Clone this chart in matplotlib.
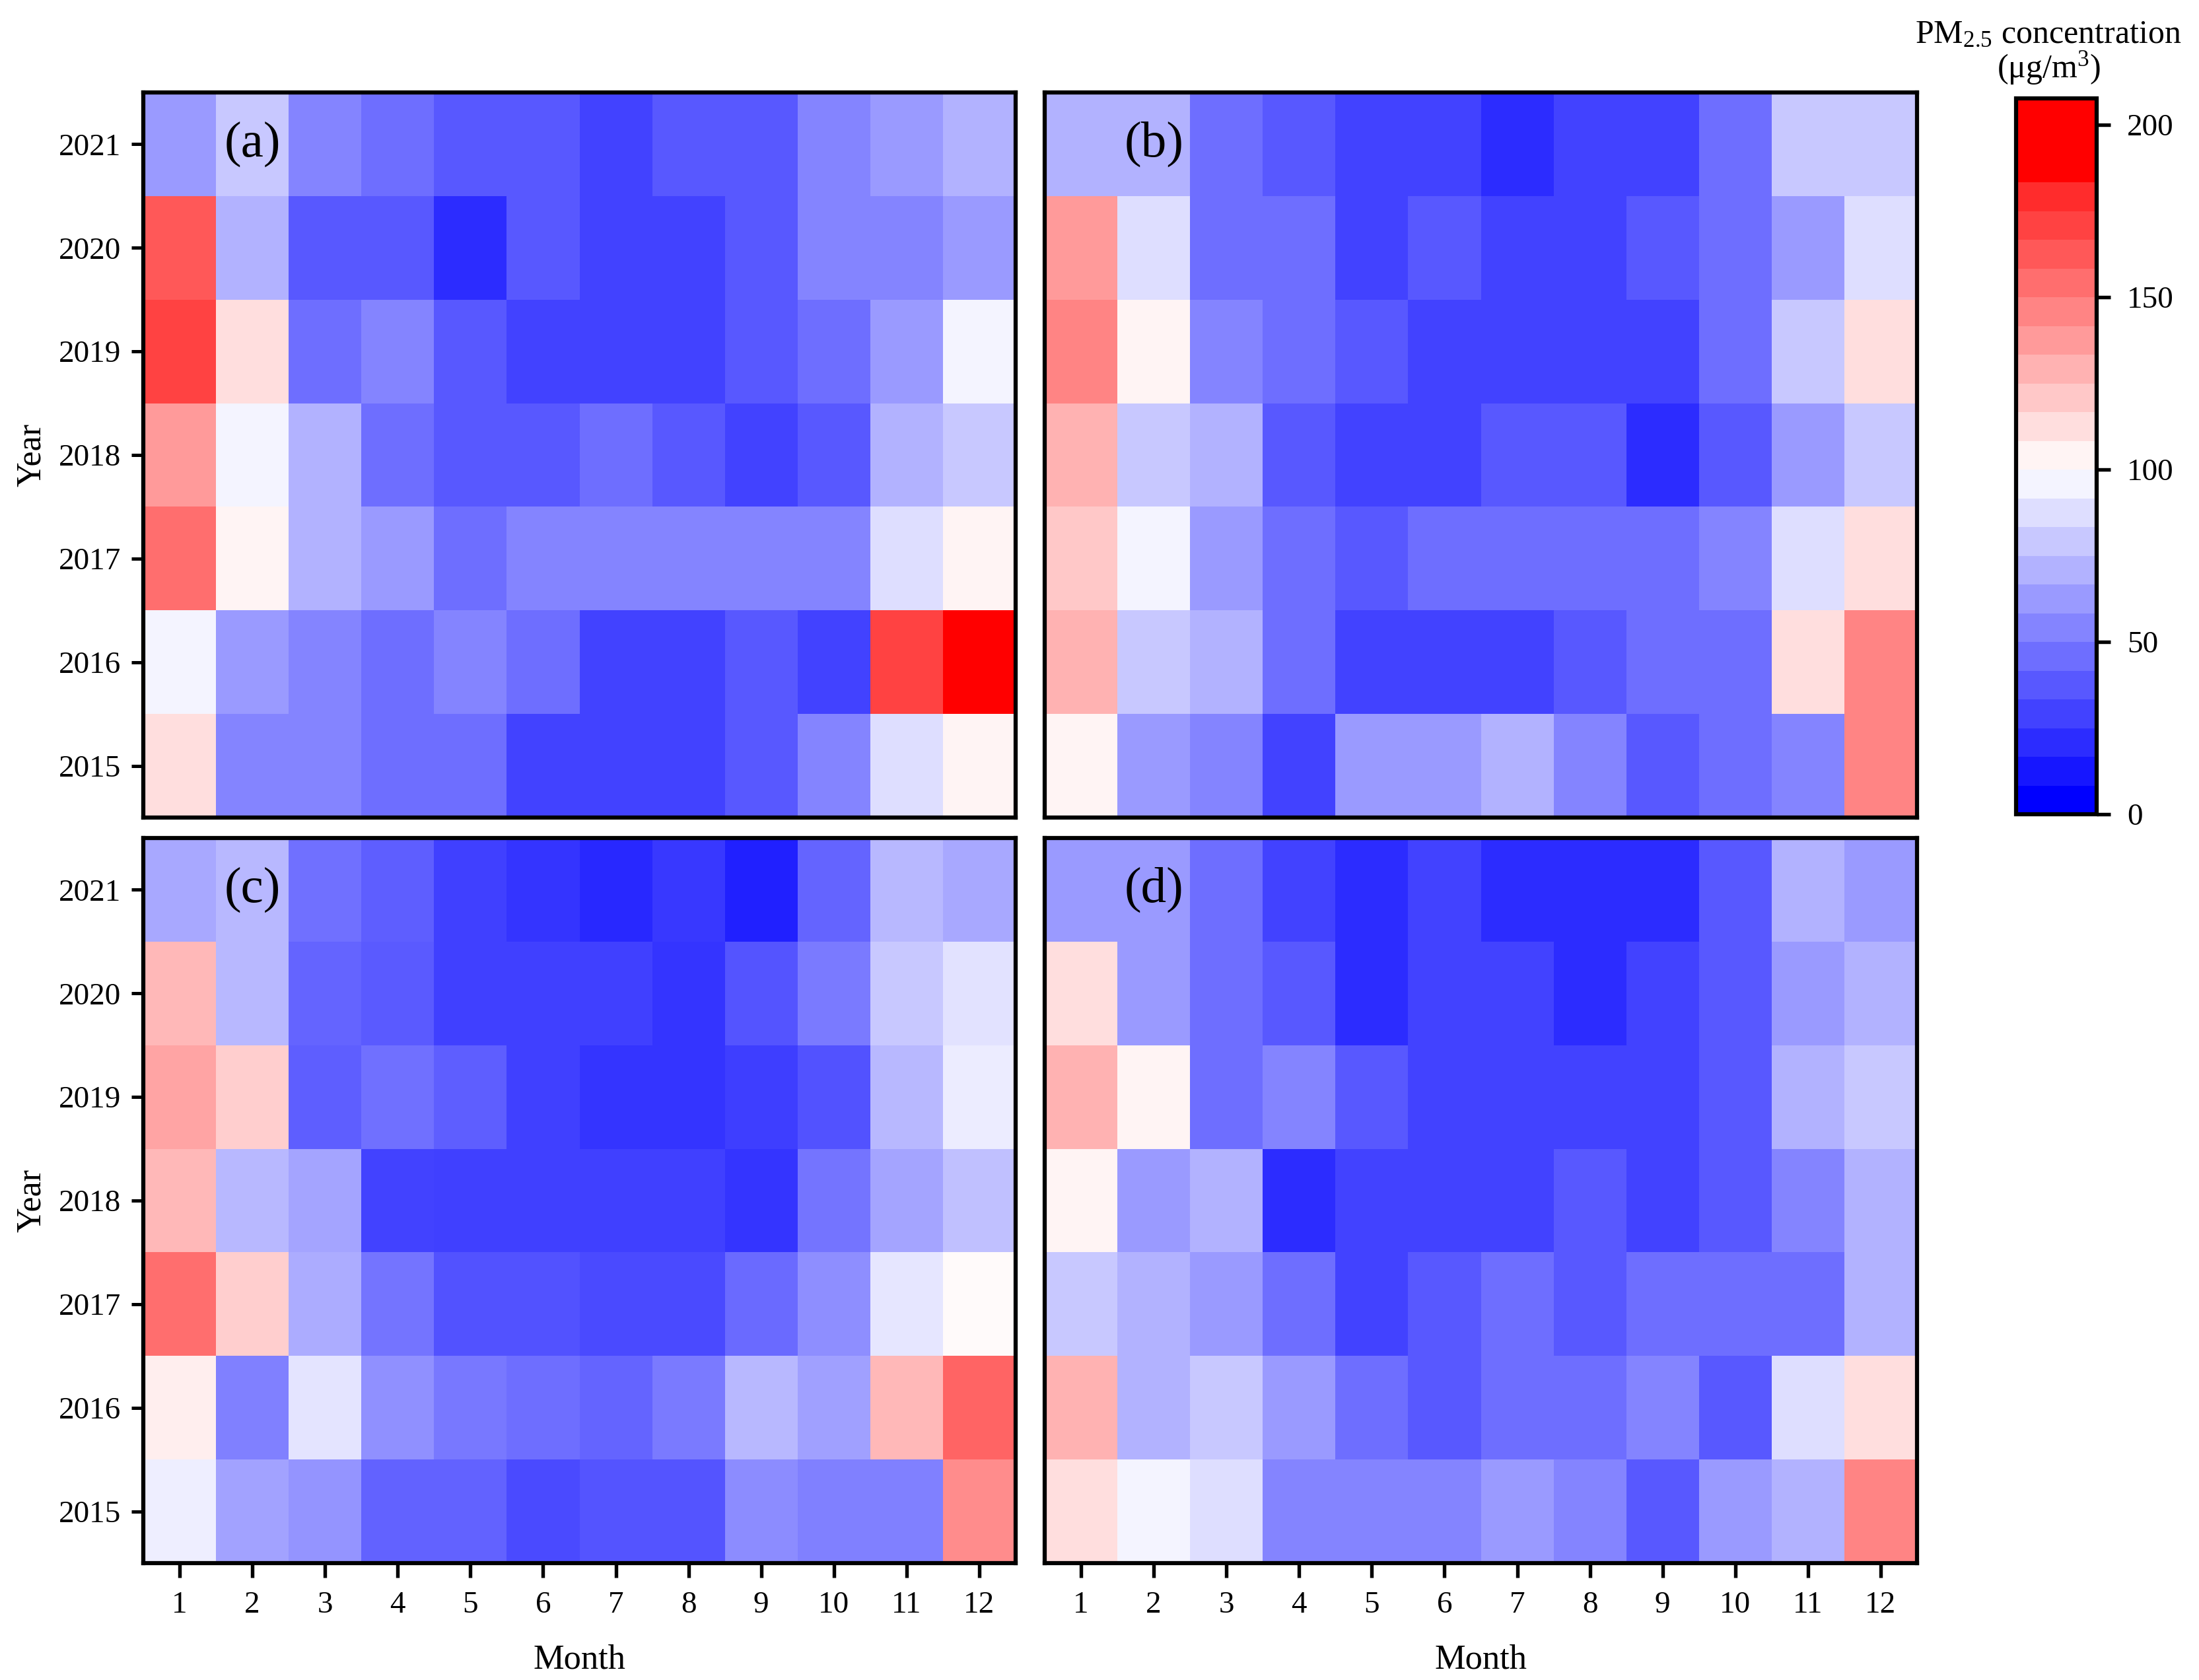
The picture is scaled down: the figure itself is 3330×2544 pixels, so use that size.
import numpy as np
import matplotlib
matplotlib.use('Agg')
import matplotlib.pyplot as plt
from matplotlib.colors import ListedColormap, BoundaryNorm, Normalize
from matplotlib.cm import ScalarMappable

plt.rcParams['font.family'] = ['Liberation Serif', 'DejaVu Serif']
plt.rcParams['mathtext.fontset'] = 'custom'
plt.rcParams['mathtext.rm'] = 'Liberation Serif'
plt.rcParams['mathtext.it'] = 'Liberation Serif:italic'

months = list(range(1, 13))
years = [2021, 2020, 2019, 2018, 2017, 2016, 2015]   # top to bottom
panel_labels = ['(a)', '(b)', '(c)', '(d)']

# PM2.5 (ug/m3), rows = years (2021 -> 2015), columns = months 1..12
pm_a = [
    [62, 79, 54, 46, 38, 38, 29, 38, 38, 54, 62, 71],
    [163, 71, 38, 38, 21, 38, 29, 29, 38, 54, 54, 62],
    [171, 112, 46, 54, 38, 29, 29, 29, 38, 46, 62, 96],
    [138, 96, 71, 46, 38, 38, 46, 38, 29, 38, 71, 79],
    [154, 104, 71, 62, 46, 54, 54, 54, 54, 54, 88, 104],
    [96, 62, 54, 46, 54, 46, 29, 29, 38, 29, 171, 200],
    [112, 54, 54, 46, 46, 29, 29, 29, 38, 54, 88, 104],
]
pm_b = [
    [71, 71, 46, 38, 29, 29, 21, 29, 29, 46, 79, 79],
    [138, 88, 46, 46, 29, 38, 29, 29, 38, 46, 62, 88],
    [146, 104, 54, 46, 38, 29, 29, 29, 29, 46, 79, 112],
    [129, 79, 71, 38, 29, 29, 38, 38, 21, 38, 62, 79],
    [121, 96, 62, 46, 38, 46, 46, 46, 46, 54, 88, 112],
    [129, 79, 71, 46, 29, 29, 29, 38, 46, 46, 112, 146],
    [104, 62, 54, 29, 62, 62, 71, 54, 38, 46, 54, 146],
]
pm_c = [
    [65.9, 72.2, 43.9, 36.9, 25.1, 20.4, 15.7, 22.0, 12.5, 39.2, 72.2, 65.9],
    [127.8, 72.2, 39.2, 35.3, 25.1, 25.1, 25.1, 20.8, 33.3, 47.8, 78.4, 88.6],
    [135.7, 119.2, 36.9, 43.9, 36.9, 25.1, 20.4, 20.4, 24.3, 32.2, 72.2, 92.5],
    [127.8, 72.2, 64.3, 25.9, 25.1, 25.1, 25.1, 25.1, 20.4, 45.5, 64.3, 75.3],
    [156.9, 119.2, 67.5, 45.5, 32.2, 32.2, 29.0, 29.0, 41.6, 55.7, 90.2, 102.0],
    [106.7, 50.2, 89.4, 56.5, 47.1, 43.1, 39.2, 47.8, 72.2, 62.7, 127.8, 160.8],
    [93.3, 63.5, 58.0, 38.4, 38.4, 29.0, 33.3, 33.3, 54.9, 50.2, 50.2, 145.1],
]
pm_d = [
    [62, 62, 46, 29, 21, 29, 21, 21, 21, 38, 71, 62],
    [112, 62, 46, 38, 21, 29, 29, 21, 29, 38, 62, 71],
    [129, 104, 46, 54, 38, 29, 29, 29, 29, 38, 71, 79],
    [104, 62, 71, 21, 29, 29, 29, 38, 29, 38, 54, 71],
    [79, 71, 62, 46, 29, 38, 46, 38, 46, 46, 46, 71],
    [129, 71, 79, 62, 46, 38, 46, 46, 54, 38, 88, 112],
    [112, 96, 88, 54, 54, 54, 62, 54, 38, 62, 71, 146],
]
cbar_ticks = [0, 50, 100, 150, 200]

# discrete colour scale (24 bands)
nb = 24
bounds = list(np.linspace(0, 200, 25)[:23]) + [207.7]
disc_cmap = ListedColormap([plt.get_cmap('bwr')(k / (nb - 1)) for k in range(nb)])
disc_norm = BoundaryNorm(bounds, nb)
cont_norm = Normalize(0, 200)

W, H = 3330, 2544
fig = plt.figure(figsize=(W / 300, H / 300), dpi=300)

def fx(px):
    return px / W

def fy(py):
    return 1 - py / H

pl = [217, 1582]
pw = 1321
pt = [140, 1269]
ph = 1098

data = [pm_a, pm_b, pm_c, pm_d]
xe = np.arange(0.5, 13.0, 1.0)
yrs_sorted = sorted(years)
ye = np.arange(yrs_sorted[0] - 0.5, yrs_sorted[-1] + 1.0, 1.0)

for i in range(4):
    r, c = divmod(i, 2)
    ax = fig.add_axes([fx(pl[c]), fy(pt[r] + ph), fx(pw), ph / H])
    arr = np.array(data[i], dtype=float)[::-1]   # rows 2015 -> 2021
    if i == 2:
        ax.pcolormesh(xe, ye, arr, cmap='bwr', norm=cont_norm)
    else:
        ax.pcolormesh(xe, ye, arr, cmap=disc_cmap, norm=disc_norm)
    ax.set_xlim(0.5, 12.5)
    ax.set_ylim(ye[0], ye[-1])
    for s in ax.spines.values():
        s.set_linewidth(1.5)
    ax.tick_params(axis='x', width=1.3, length=5.2, labelsize=11.3, pad=5)
    ax.tick_params(axis='y', width=1.2, length=4.3, labelsize=11.3, pad=3.8)
    if r == 1:
        ax.set_xticks(months)
        ax.set_xticklabels([str(m) for m in months])
        ax.set_xlabel('Month', fontsize=12.6, labelpad=9)
    else:
        ax.set_xticks([])
    if c == 0:
        ax.set_yticks(yrs_sorted)
        ax.set_yticklabels([str(y) for y in yrs_sorted])
        ax.set_ylabel('Year', fontsize=12.5, labelpad=4)
    else:
        ax.set_yticks([])
    ax.text(2, 2021, panel_labels[i], ha='center', va='center', fontsize=18.5)

cax = fig.add_axes([fx(3053), fy(1233), fx(122), (1233 - 149) / H])
cb = fig.colorbar(ScalarMappable(norm=disc_norm, cmap=disc_cmap), cax=cax,
                  spacing='proportional', ticks=cbar_ticks)
cb.minorticks_off()
cb.outline.set_linewidth(1.5)
cb.ax.tick_params(width=1.3, length=5, labelsize=11.3, pad=6)
cb.ax.set_yticklabels([str(t) for t in cbar_ticks])

fig.text(fx(3102), fy(65), 'PM$_{2.5}$ concentration', ha='center', va='baseline', fontsize=12)
fig.text(fx(3102), fy(117), '(μg/m$^3$)', ha='center', va='baseline', fontsize=12)

fig.savefig('out.png', dpi=300)
